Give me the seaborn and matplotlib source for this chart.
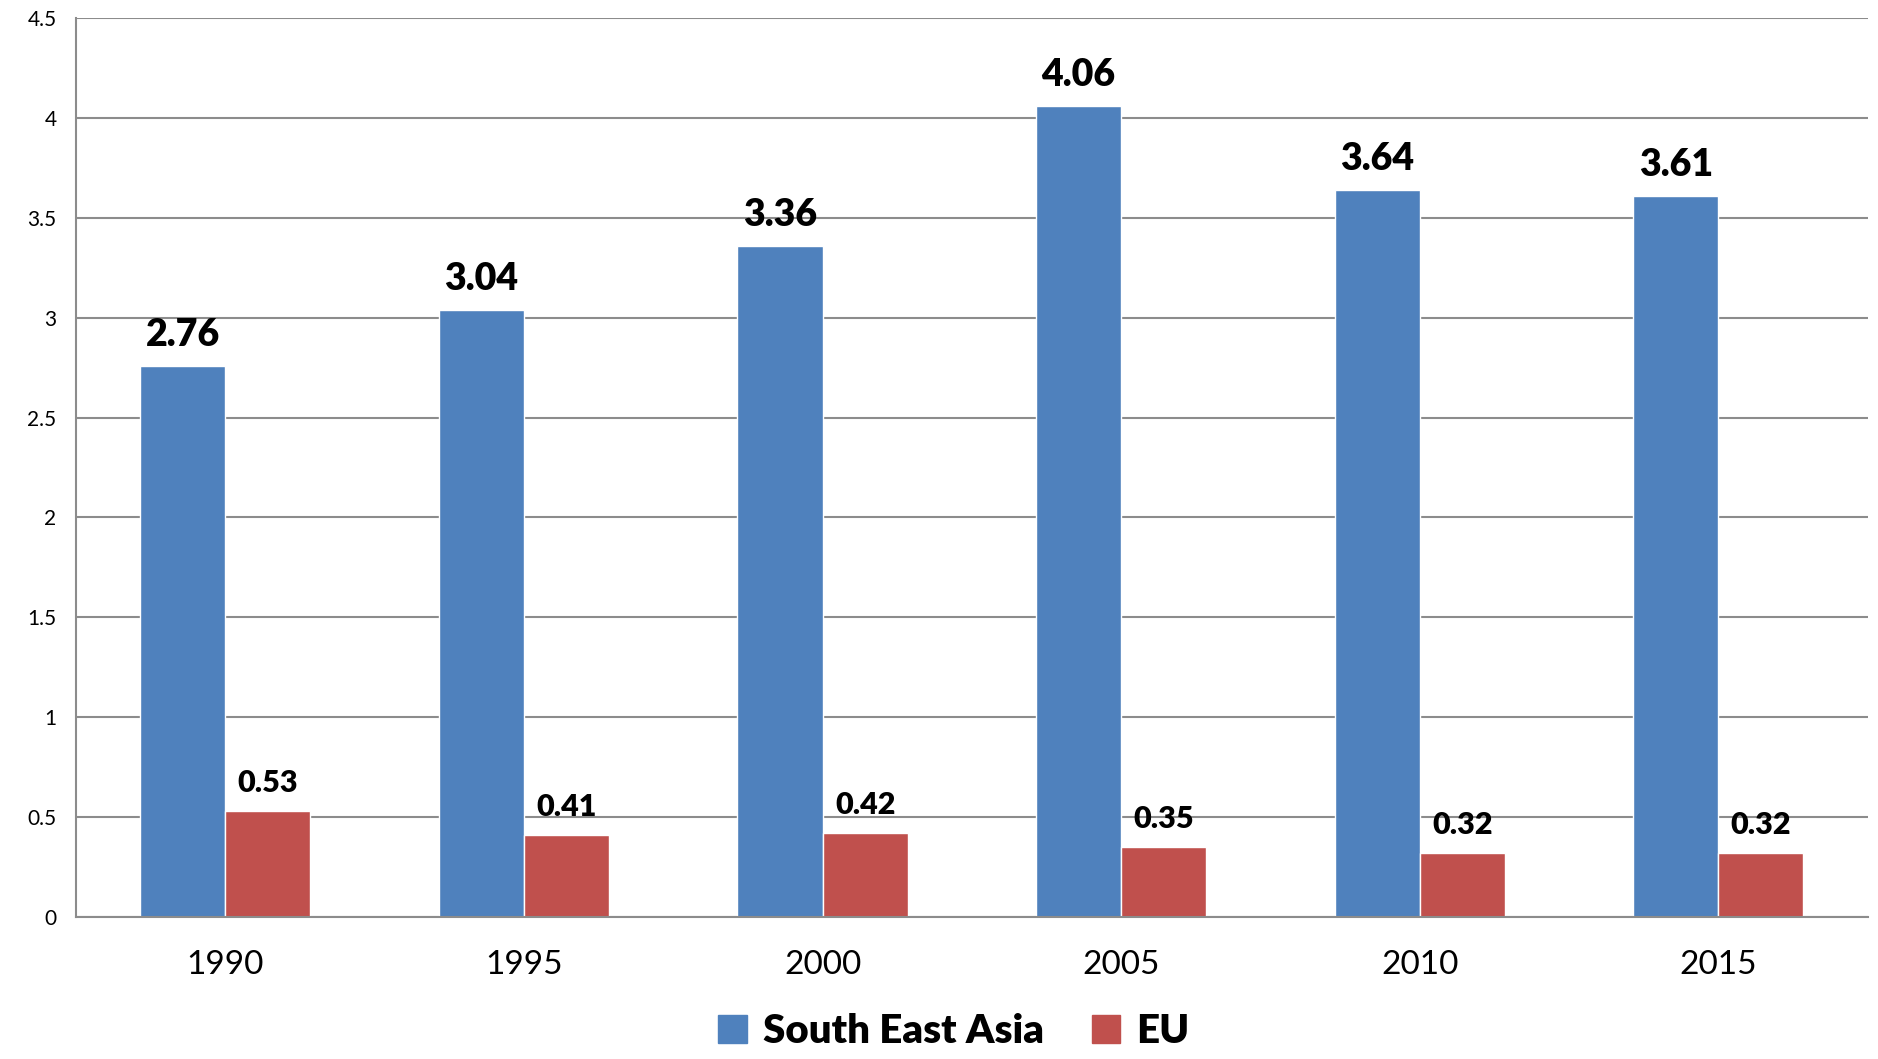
import pandas as pd
import matplotlib.pyplot as plt
import seaborn as sns

# data
years = ["1990", "1995", "2000", "2005", "2010", "2015"]
south_east_asia = [2.76, 3.04, 3.36, 4.06, 3.64, 3.61]
eu = [0.53, 0.41, 0.42, 0.35, 0.32, 0.32]
series_names = ["South East Asia", "EU"]
series_colors = ["#4F81BD", "#C0504D"]

df = pd.DataFrame({
    "year": years * 2,
    "value": south_east_asia + eu,
    "series": [series_names[0]] * len(years) + [series_names[1]] * len(years),
})

sns.set_style("white")
plt.rcParams['font.family'] = ['Lato', 'DejaVu Sans']
plt.rcParams['text.color'] = 'black'
plt.rcParams['xtick.color'] = 'black'
plt.rcParams['ytick.color'] = 'black'

fig = plt.figure(figsize=(18.78, 10.59), dpi=100)
ax = fig.add_axes([0.0405, 0.134, 0.954, 0.849])

sns.barplot(data=df, x="year", y="value", hue="series", order=years,
            hue_order=series_names, palette=series_colors, width=0.57,
            gap=0, saturation=1, ax=ax, legend=False)

# value labels on top of the bars
for cont, size in zip(ax.containers, [27, 22]):
    ax.bar_label(cont, labels=[f"{v:.2f}" for v in cont.datavalues],
                 padding=10, fontsize=size, fontweight="heavy", color="black")

ax.set_ylim(0, 4.5)
ax.set_xlim(-0.5, 5.5)
ax.set_yticks([0, 0.5, 1, 1.5, 2, 2.5, 3, 3.5, 4, 4.5])
ax.set_yticklabels(["0", "0.5", "1", "1.5", "2", "2.5", "3", "3.5", "4", "4.5"])
ax.yaxis.grid(True, color="#8c8c8c", linewidth=1.5)
ax.set_axisbelow(True)
ax.tick_params(axis="y", labelsize=15, length=0, pad=14)
ax.tick_params(axis="x", labelsize=24, length=0, pad=24)
ax.set_xlabel("")
ax.set_ylabel("")

for side in ["top", "right"]:
    ax.spines[side].set_visible(False)
for side in ["left", "bottom"]:
    ax.spines[side].set_color("#8c8c8c")
    ax.spines[side].set_linewidth(1.5)

# legend below the chart
handles = [plt.Rectangle((0, 0), 1, 1, color=c) for c in series_colors]
leg = fig.legend(handles, series_names, loc="center", bbox_to_anchor=(0.508, 0.026),
                 ncol=2, frameon=False, handlelength=0.7, handleheight=0.7,
                 handletextpad=0.4, columnspacing=1.2, borderpad=0.2,
                 prop={"size": 29, "weight": "heavy"})

plt.savefig("out.png", dpi=100)
